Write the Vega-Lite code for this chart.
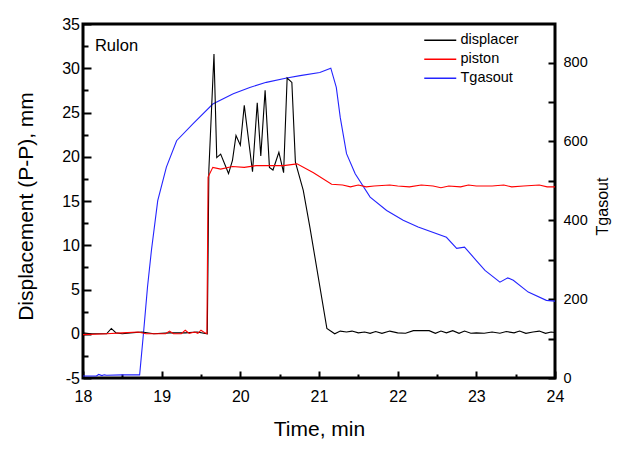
{
  "$schema": "https://vega.github.io/schema/vega-lite/v6.json",
  "width": 472,
  "height": 354,
  "autosize": {"type": "none"},
  "padding": {"left": 83, "top": 24, "right": 71, "bottom": 74},
  "background": "white",
  "config": {
    "locale": {"number": {"decimal": ".", "thousands": ",", "grouping": [3], "currency": ["$", ""], "minus": "-"}},
    "view": {"stroke": "black", "strokeWidth": 3},
    "font": "Liberation Sans",
    "axis": {
      "grid": false,
      "domain": false,
      "ticks": true,
      "zindex": 1,
      "titleColor": "black",
      "titleFontWeight": "normal",
      "labelFlush": false,
      "labelOverlap": false,
      "labelBound": false
    }
  },
  "datasets": {
    "disp": [
      {"t": 18.0, "v": 0.1, "s": "displacer"},
      {"t": 18.1, "v": 0.0, "s": "displacer"},
      {"t": 18.3, "v": 0.0, "s": "displacer"},
      {"t": 18.36, "v": 0.6, "s": "displacer"},
      {"t": 18.42, "v": 0.1, "s": "displacer"},
      {"t": 18.5, "v": 0.0, "s": "displacer"},
      {"t": 18.6, "v": 0.1, "s": "displacer"},
      {"t": 18.75, "v": 0.2, "s": "displacer"},
      {"t": 18.9, "v": 0.0, "s": "displacer"},
      {"t": 19.1, "v": 0.1, "s": "displacer"},
      {"t": 19.3, "v": 0.1, "s": "displacer"},
      {"t": 19.45, "v": 0.2, "s": "displacer"},
      {"t": 19.58, "v": 0.0, "s": "displacer"},
      {"t": 19.6, "v": 18.5, "s": "displacer"},
      {"t": 19.665, "v": 31.6, "s": "displacer"},
      {"t": 19.7, "v": 19.9, "s": "displacer"},
      {"t": 19.75, "v": 20.3, "s": "displacer"},
      {"t": 19.85, "v": 18.1, "s": "displacer"},
      {"t": 19.9, "v": 19.6, "s": "displacer"},
      {"t": 19.945, "v": 22.4, "s": "displacer"},
      {"t": 20.0, "v": 21.3, "s": "displacer"},
      {"t": 20.05, "v": 25.8, "s": "displacer"},
      {"t": 20.155, "v": 18.3, "s": "displacer"},
      {"t": 20.215, "v": 26.1, "s": "displacer"},
      {"t": 20.26, "v": 20.1, "s": "displacer"},
      {"t": 20.315, "v": 27.5, "s": "displacer"},
      {"t": 20.37, "v": 18.8, "s": "displacer"},
      {"t": 20.415, "v": 18.5, "s": "displacer"},
      {"t": 20.49, "v": 20.5, "s": "displacer"},
      {"t": 20.55, "v": 18.2, "s": "displacer"},
      {"t": 20.595, "v": 28.9, "s": "displacer"},
      {"t": 20.655, "v": 28.4, "s": "displacer"},
      {"t": 20.7, "v": 19.4, "s": "displacer"},
      {"t": 20.8, "v": 16.2, "s": "displacer"},
      {"t": 20.885, "v": 12.0, "s": "displacer"},
      {"t": 21.1, "v": 0.6, "s": "displacer"},
      {"t": 21.2, "v": 0.0, "s": "displacer"},
      {"t": 21.27, "v": 0.3, "s": "displacer"},
      {"t": 21.35, "v": 0.2, "s": "displacer"},
      {"t": 21.42, "v": 0.3, "s": "displacer"},
      {"t": 21.5, "v": 0.1, "s": "displacer"},
      {"t": 21.58, "v": 0.2, "s": "displacer"},
      {"t": 21.65, "v": 0.05, "s": "displacer"},
      {"t": 21.72, "v": 0.25, "s": "displacer"},
      {"t": 21.8, "v": 0.05, "s": "displacer"},
      {"t": 21.9, "v": 0.3, "s": "displacer"},
      {"t": 22.0, "v": 0.1, "s": "displacer"},
      {"t": 22.1, "v": 0.05, "s": "displacer"},
      {"t": 22.2, "v": 0.35, "s": "displacer"},
      {"t": 22.4, "v": 0.35, "s": "displacer"},
      {"t": 22.48, "v": 0.05, "s": "displacer"},
      {"t": 22.55, "v": 0.3, "s": "displacer"},
      {"t": 22.62, "v": 0.1, "s": "displacer"},
      {"t": 22.7, "v": 0.35, "s": "displacer"},
      {"t": 22.78, "v": 0.05, "s": "displacer"},
      {"t": 22.85, "v": 0.3, "s": "displacer"},
      {"t": 22.93, "v": 0.05, "s": "displacer"},
      {"t": 23.0, "v": 0.1, "s": "displacer"},
      {"t": 23.1, "v": 0.05, "s": "displacer"},
      {"t": 23.2, "v": 0.2, "s": "displacer"},
      {"t": 23.3, "v": 0.05, "s": "displacer"},
      {"t": 23.38, "v": 0.25, "s": "displacer"},
      {"t": 23.48, "v": 0.1, "s": "displacer"},
      {"t": 23.55, "v": 0.3, "s": "displacer"},
      {"t": 23.63, "v": 0.05, "s": "displacer"},
      {"t": 23.72, "v": 0.2, "s": "displacer"},
      {"t": 23.8, "v": 0.3, "s": "displacer"},
      {"t": 23.88, "v": 0.05, "s": "displacer"},
      {"t": 23.95, "v": 0.2, "s": "displacer"},
      {"t": 24.0, "v": 0.15, "s": "displacer"},
      {"t": 18.0, "v": -0.1, "s": "piston"},
      {"t": 18.3, "v": 0.0, "s": "piston"},
      {"t": 18.5, "v": 0.1, "s": "piston"},
      {"t": 18.7, "v": 0.2, "s": "piston"},
      {"t": 18.8, "v": 0.0, "s": "piston"},
      {"t": 19.05, "v": 0.0, "s": "piston"},
      {"t": 19.1, "v": 0.3, "s": "piston"},
      {"t": 19.15, "v": 0.0, "s": "piston"},
      {"t": 19.25, "v": 0.0, "s": "piston"},
      {"t": 19.3, "v": 0.4, "s": "piston"},
      {"t": 19.35, "v": 0.05, "s": "piston"},
      {"t": 19.42, "v": 0.2, "s": "piston"},
      {"t": 19.46, "v": 0.05, "s": "piston"},
      {"t": 19.5, "v": 0.4, "s": "piston"},
      {"t": 19.55, "v": 0.1, "s": "piston"},
      {"t": 19.575, "v": 0.0, "s": "piston"},
      {"t": 19.59, "v": 17.7, "s": "piston"},
      {"t": 19.65, "v": 18.8, "s": "piston"},
      {"t": 19.75, "v": 18.6, "s": "piston"},
      {"t": 19.9, "v": 18.9, "s": "piston"},
      {"t": 20.05, "v": 18.8, "s": "piston"},
      {"t": 20.2, "v": 19.0, "s": "piston"},
      {"t": 20.4, "v": 19.0, "s": "piston"},
      {"t": 20.55, "v": 19.0, "s": "piston"},
      {"t": 20.72, "v": 19.2, "s": "piston"},
      {"t": 20.93, "v": 18.2, "s": "piston"},
      {"t": 21.16, "v": 16.9, "s": "piston"},
      {"t": 21.3, "v": 16.8, "s": "piston"},
      {"t": 21.4, "v": 16.6, "s": "piston"},
      {"t": 21.5, "v": 16.8, "s": "piston"},
      {"t": 21.6, "v": 16.6, "s": "piston"},
      {"t": 21.7, "v": 16.7, "s": "piston"},
      {"t": 21.9, "v": 16.8, "s": "piston"},
      {"t": 22.0, "v": 16.7, "s": "piston"},
      {"t": 22.15, "v": 16.6, "s": "piston"},
      {"t": 22.3, "v": 16.8, "s": "piston"},
      {"t": 22.45, "v": 16.7, "s": "piston"},
      {"t": 22.55, "v": 16.5, "s": "piston"},
      {"t": 22.65, "v": 16.7, "s": "piston"},
      {"t": 22.8, "v": 16.6, "s": "piston"},
      {"t": 22.9, "v": 16.8, "s": "piston"},
      {"t": 23.0, "v": 16.7, "s": "piston"},
      {"t": 23.2, "v": 16.7, "s": "piston"},
      {"t": 23.35, "v": 16.8, "s": "piston"},
      {"t": 23.45, "v": 16.6, "s": "piston"},
      {"t": 23.6, "v": 16.7, "s": "piston"},
      {"t": 23.8, "v": 16.8, "s": "piston"},
      {"t": 23.9, "v": 16.6, "s": "piston"},
      {"t": 24.0, "v": 16.6, "s": "piston"}
    ],
    "temp": [
      {"t": 18.0, "v": 5, "s": "Tgasout"},
      {"t": 18.17, "v": 5, "s": "Tgasout"},
      {"t": 18.2, "v": 9, "s": "Tgasout"},
      {"t": 18.24, "v": 6, "s": "Tgasout"},
      {"t": 18.27, "v": 8, "s": "Tgasout"},
      {"t": 18.3, "v": 7, "s": "Tgasout"},
      {"t": 18.5, "v": 8, "s": "Tgasout"},
      {"t": 18.72, "v": 8, "s": "Tgasout"},
      {"t": 18.77, "v": 116, "s": "Tgasout"},
      {"t": 18.82, "v": 231, "s": "Tgasout"},
      {"t": 18.87, "v": 324, "s": "Tgasout"},
      {"t": 18.95, "v": 450, "s": "Tgasout"},
      {"t": 19.06, "v": 535, "s": "Tgasout"},
      {"t": 19.19, "v": 602, "s": "Tgasout"},
      {"t": 19.4, "v": 645, "s": "Tgasout"},
      {"t": 19.65, "v": 695, "s": "Tgasout"},
      {"t": 19.91, "v": 721, "s": "Tgasout"},
      {"t": 20.12, "v": 737, "s": "Tgasout"},
      {"t": 20.33, "v": 750, "s": "Tgasout"},
      {"t": 20.59, "v": 761, "s": "Tgasout"},
      {"t": 20.76, "v": 767, "s": "Tgasout"},
      {"t": 21.01, "v": 775, "s": "Tgasout"},
      {"t": 21.15, "v": 786, "s": "Tgasout"},
      {"t": 21.22, "v": 737, "s": "Tgasout"},
      {"t": 21.27, "v": 661, "s": "Tgasout"},
      {"t": 21.35, "v": 569, "s": "Tgasout"},
      {"t": 21.46, "v": 518, "s": "Tgasout"},
      {"t": 21.65, "v": 459, "s": "Tgasout"},
      {"t": 21.86, "v": 425, "s": "Tgasout"},
      {"t": 22.07, "v": 400, "s": "Tgasout"},
      {"t": 22.26, "v": 383, "s": "Tgasout"},
      {"t": 22.62, "v": 357, "s": "Tgasout"},
      {"t": 22.75, "v": 329, "s": "Tgasout"},
      {"t": 22.85, "v": 332, "s": "Tgasout"},
      {"t": 23.0, "v": 298, "s": "Tgasout"},
      {"t": 23.11, "v": 273, "s": "Tgasout"},
      {"t": 23.3, "v": 243, "s": "Tgasout"},
      {"t": 23.4, "v": 254, "s": "Tgasout"},
      {"t": 23.47, "v": 248, "s": "Tgasout"},
      {"t": 23.66, "v": 218, "s": "Tgasout"},
      {"t": 23.89, "v": 197, "s": "Tgasout"},
      {"t": 24.0, "v": 195, "s": "Tgasout"}
    ],
    "note": [{"t": 18.152, "v": 32, "label": "Rulon"}]
  },
  "encoding": {
    "x": {
      "field": "t",
      "type": "quantitative",
      "scale": {"domain": [18, 24], "nice": false, "zero": false},
      "axis": {
        "values": [18, 18.5, 19, 19.5, 20, 20.5, 21, 21.5, 22, 22.5, 23, 23.5, 24],
        "format": ".0f",
        "labelColor": {"condition": {"test": "datum.value % 1 !== 0", "value": "transparent"}, "value": "black"},
        "tickColor": "black",
        "tickWidth": 2,
        "tickSize": {"condition": {"test": "datum.value % 1 === 0", "value": -7}, "value": -4},
        "labelPadding": 17,
        "labelFontSize": 16,
        "labelFont": "Liberation Sans",
        "title": "Time, min",
        "titleFont": "Liberation Sans",
        "titleFontSize": 21,
        "titleX": 236,
        "titleY": 57,
        "titleBaseline": "alphabetic"
      }
    },
    "color": {
      "field": "s",
      "type": "nominal",
      "scale": {"domain": ["displacer", "piston", "Tgasout"], "range": ["#000000", "#ff0000", "#2424ff"]},
      "legend": {
        "title": null,
        "orient": "none",
        "legendX": 350,
        "legendY": 9,
        "padding": 0,
        "symbolType": "M-4,0H4",
        "symbolSize": 64,
        "symbolStrokeWidth": 1.3,
        "labelFont": "Liberation Sans",
        "labelFontSize": 14.5,
        "labelColor": "black",
        "labelOffset": 13,
        "rowPadding": 4
      }
    }
  },
  "layer": [
    {
      "data": {"name": "temp"},
      "mark": {"type": "line", "strokeWidth": 1.1},
      "encoding": {
        "y": {
          "field": "v",
          "type": "quantitative",
          "scale": {"domain": [0, 898], "nice": false, "zero": false},
          "axis": {
            "orient": "right",
            "values": [0, 100, 200, 300, 400, 500, 600, 700, 800],
            "format": ".0f",
            "labelColor": {"condition": {"test": "datum.value % 200 !== 0", "value": "transparent"}, "value": "black"},
            "tickColor": "black",
            "tickWidth": 2,
            "tickSize": -7,
            "labelPadding": 15,
            "labelFontSize": 14.5,
            "labelFont": "Liberation Sans",
            "title": "Tgasout",
            "titleFont": "Liberation Sans",
            "titleFontSize": 16,
            "titleAngle": 270,
            "titleX": 52,
            "titleY": 182,
            "titleBaseline": "alphabetic"
          }
        }
      }
    },
    {
      "encoding": {
        "y": {
          "field": "v",
          "type": "quantitative",
          "scale": {"domain": [-5, 35], "nice": false, "zero": false},
          "axis": {
            "orient": "left",
            "values": [-5, -2.5, 0, 2.5, 5, 7.5, 10, 12.5, 15, 17.5, 20, 22.5, 25, 27.5, 30, 32.5, 35],
            "format": ".0f",
            "labelColor": {"condition": {"test": "datum.value % 5 !== 0", "value": "transparent"}, "value": "black"},
            "tickColor": "black",
            "tickWidth": 2,
            "tickSize": {"condition": {"test": "datum.value % 5 === 0", "value": -8}, "value": -5},
            "labelPadding": 11.5,
            "labelFontSize": 16,
            "labelFont": "Liberation Sans",
            "title": "Displacement (P-P), mm",
            "titleFont": "Liberation Sans",
            "titleFontSize": 21,
            "titleAngle": 270,
            "titleX": -51,
            "titleY": 182,
            "titleBaseline": "alphabetic"
          }
        }
      },
      "layer": [
        {
          "data": {"name": "disp"},
          "mark": {"type": "line", "strokeWidth": 1.1}
        },
        {
          "data": {"name": "note"},
          "mark": {"type": "text", "align": "left", "baseline": "alphabetic", "fontSize": 16.5, "font": "Liberation Sans"},
          "encoding": {
            "text": {"field": "label"},
            "color": {"value": "black"}
          }
        }
      ]
    }
  ],
  "resolve": {"scale": {"y": "independent"}}
}
